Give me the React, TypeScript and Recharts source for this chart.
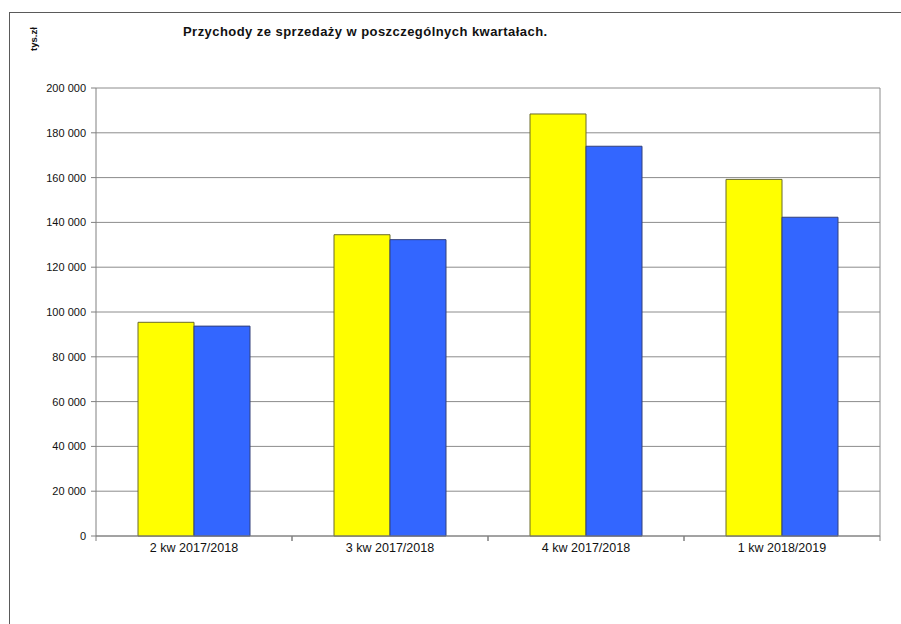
import { BarChart, Bar, XAxis, YAxis, CartesianGrid } from 'recharts';

// kwartały i przychody (tys. zł)
const quarters = ['2 kw 2017/2018', '3 kw 2017/2018', '4 kw 2017/2018', '1 kw 2018/2019'];
const seriesA = [95400, 134500, 188400, 159200];
const seriesB = [93700, 132300, 174000, 142300];
const yTicks = [0, 20000, 40000, 60000, 80000, 100000, 120000, 140000, 160000, 180000, 200000];

const data = quarters.map((q, i) => ({ name: q, a: seriesA[i], b: seriesB[i] }));

const fmt = (v: number) => v.toLocaleString('en-US').replace(/,/g, ' ');

const FONT = 'Arial, "Liberation Sans", sans-serif';

// etykieta kategorii + kreski podziałki na granicach kategorii
const QuarterTick = (props: any) => {
    const { x, y, payload } = props;
    const half = 98;
    return (
        <g>
            <line x1={x - half} x2={x - half} y1={y} y2={y + 5} stroke="#808080" />
            <line x1={x + half} x2={x + half} y1={y} y2={y + 5} stroke="#808080" />
            <text x={x} y={y + 16} textAnchor="middle" fontSize={12.5} fontFamily={FONT} fill="#111">
                {payload.value}
            </text>
        </g>
    );
};

export default function App() {
    return (
        <div style={{ position: 'absolute', left: 0, top: 0, width: 901, height: 624, background: '#fff' }}>
            <div
                style={{
                    position: 'absolute',
                    left: 9,
                    top: 12,
                    right: 0,
                    bottom: 0,
                    borderTop: '1px solid #5a5a5a',
                    borderLeft: '1px solid #5a5a5a',
                }}
            />
            <div
                style={{
                    position: 'absolute',
                    left: 183,
                    top: 24,
                    fontFamily: FONT,
                    fontWeight: 'bold',
                    fontSize: 13,
                    letterSpacing: 0.45,
                    color: '#111',
                    whiteSpace: 'nowrap',
                }}
            >
                Przychody ze sprzedaży w poszczególnych kwartałach.
            </div>
            <div
                style={{
                    position: 'absolute',
                    left: 33,
                    top: 39,
                    transform: 'translate(-50%, -50%) rotate(-90deg)',
                    fontFamily: FONT,
                    fontWeight: 'bold',
                    fontSize: 9.5,
                    color: '#111',
                    whiteSpace: 'nowrap',
                }}
            >
                tys.zł
            </div>
            <div style={{ position: 'absolute', left: 0, top: 0 }}>
                <BarChart
                    width={901}
                    height={624}
                    data={data}
                    margin={{ top: 88, right: 21, bottom: 58, left: 10 }}
                    barCategoryGap={42}
                    barGap={0}
                >
                    <CartesianGrid
                        stroke="#8c8c8c"
                        verticalCoordinatesGenerator={({ offset }: any) => [offset.left + offset.width]}
                    />
                    <XAxis
                        dataKey="name"
                        height={30}
                        stroke="#808080"
                        tickSize={0}
                        tickMargin={0}
                        tick={<QuarterTick />}
                        interval={0}
                    />
                    <YAxis
                        width={86}
                        domain={[0, 200000]}
                        ticks={yTicks}
                        tickFormatter={fmt}
                        stroke="#808080"
                        tickSize={5}
                        tickMargin={5}
                        tick={{ fontSize: 11, fontFamily: FONT, fill: '#111' }}
                        interval={0}
                    />
                    <Bar dataKey="a" fill="#ffff00" stroke="#6b6b2a" strokeWidth={1} isAnimationActive={false} />
                    <Bar dataKey="b" fill="#3366ff" stroke="#33407a" strokeWidth={1} isAnimationActive={false} />
                </BarChart>
            </div>
        </div>
    );
}
